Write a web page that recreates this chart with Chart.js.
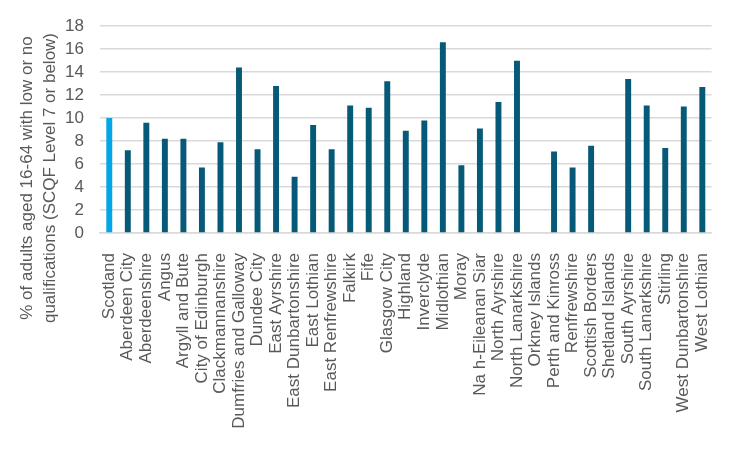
<!DOCTYPE html>
<html lang="en">
<head>
  <meta charset="UTF-8">
  <title>Low or no qualifications by council area</title>
  <script src="https://cdn.jsdelivr.net/npm/chart.js"></script>
  <style>
    html, body { margin: 0; padding: 0; background: #fff; }
    #wrap { width: 735px; height: 458px; }
  </style>
</head>
<body>
  <div id="wrap"><canvas id="barChart"></canvas></div>

  <script>
    const areas = [
      'Scotland', 'Aberdeen City', 'Aberdeenshire', 'Angus', 'Argyll and Bute',
      'City of Edinburgh', 'Clackmannanshire', 'Dumfries and Galloway', 'Dundee City',
      'East Ayrshire', 'East Dunbartonshire', 'East Lothian', 'East Renfrewshire',
      'Falkirk', 'Fife', 'Glasgow City', 'Highland', 'Inverclyde', 'Midlothian',
      'Moray', 'Na h-Eileanan Siar', 'North Ayrshire', 'North Lanarkshire',
      'Orkney Islands', 'Perth and Kinross', 'Renfrewshire', 'Scottish Borders',
      'Shetland Islands', 'South Ayrshire', 'South Lanarkshire', 'Stirling',
      'West Dunbartonshire', 'West Lothian'
    ];
    // % of adults 16-64 with low or no qualifications (no bar for Orkney / Shetland)
    const percent = [
      10.0, 7.2, 9.6, 8.2, 8.2,
      5.7, 7.9, 14.4, 7.3,
      12.8, 4.9, 9.4, 7.3,
      11.1, 10.9, 13.2, 8.9, 9.8, 16.6,
      5.9, 9.1, 11.4, 15.0,
      null, 7.1, 5.7, 7.6,
      null, 13.4, 11.1, 7.4,
      11.0, 12.7
    ];
    const yTicks = [0, 2, 4, 6, 8, 10, 12, 14, 16, 18];
    const titleLines = [
      '% of adults aged 16-64 with low or no',
      'qualifications (SCQF Level 7 or below)'
    ];

    const txt = '#595959';
    const fontFam = "'Liberation Sans', Arial, sans-serif";

    // axis title drawn by hand: it is taller than the plot area
    const yTitle = {
      id: 'yTitle',
      afterDraw(chart) {
        const ctx = chart.ctx;
        ctx.save();
        ctx.fillStyle = txt;
        ctx.font = '17px ' + fontFam;
        ctx.textAlign = 'center';
        ctx.textBaseline = 'middle';
        ctx.translate(0, 178);
        ctx.rotate(-Math.PI / 2);
        ctx.fillText(titleLines[0], 0, 27);
        ctx.fillText(titleLines[1], 0, 50);
        ctx.restore();
      }
    };

    new Chart(document.getElementById('barChart'), {
      type: 'bar',
      data: {
        labels: areas,
        datasets: [{
          data: percent,
          backgroundColor: areas.map((a, i) => i === 0 ? '#00a6e8' : '#065a78'),
          barPercentage: 0.32,
          categoryPercentage: 1
        }]
      },
      options: {
        responsive: true,
        maintainAspectRatio: false,
        animation: false,
        layout: { padding: { left: 60, right: 19, top: 25, bottom: 0 } },
        plugins: {
          legend: { display: false },
          tooltip: { enabled: false }
        },
        scales: {
          x: {
            grid: { display: false },
            border: { display: true, color: '#d9d9d9', width: 1.5 },
            ticks: {
              color: txt,
              font: { family: fontFam, size: 17 },
              minRotation: 90,
              maxRotation: 90,
              autoSkip: false,
              padding: 12
            },
            afterFit(scale) { scale.height = 225; }
          },
          y: {
            min: yTicks[0],
            max: yTicks[yTicks.length - 1],
            afterBuildTicks(scale) { scale.ticks = yTicks.map(v => ({ value: v })); },
            grid: { color: '#d9d9d9', lineWidth: 1.5, drawTicks: false },
            border: { display: false },
            ticks: {
              color: txt,
              font: { family: fontFam, size: 17 },
              autoSkip: false,
              padding: 16
            },
            afterFit(scale) { scale.width = 40; }
          }
        }
      },
      plugins: [yTitle]
    });
  </script>
</body>
</html>
